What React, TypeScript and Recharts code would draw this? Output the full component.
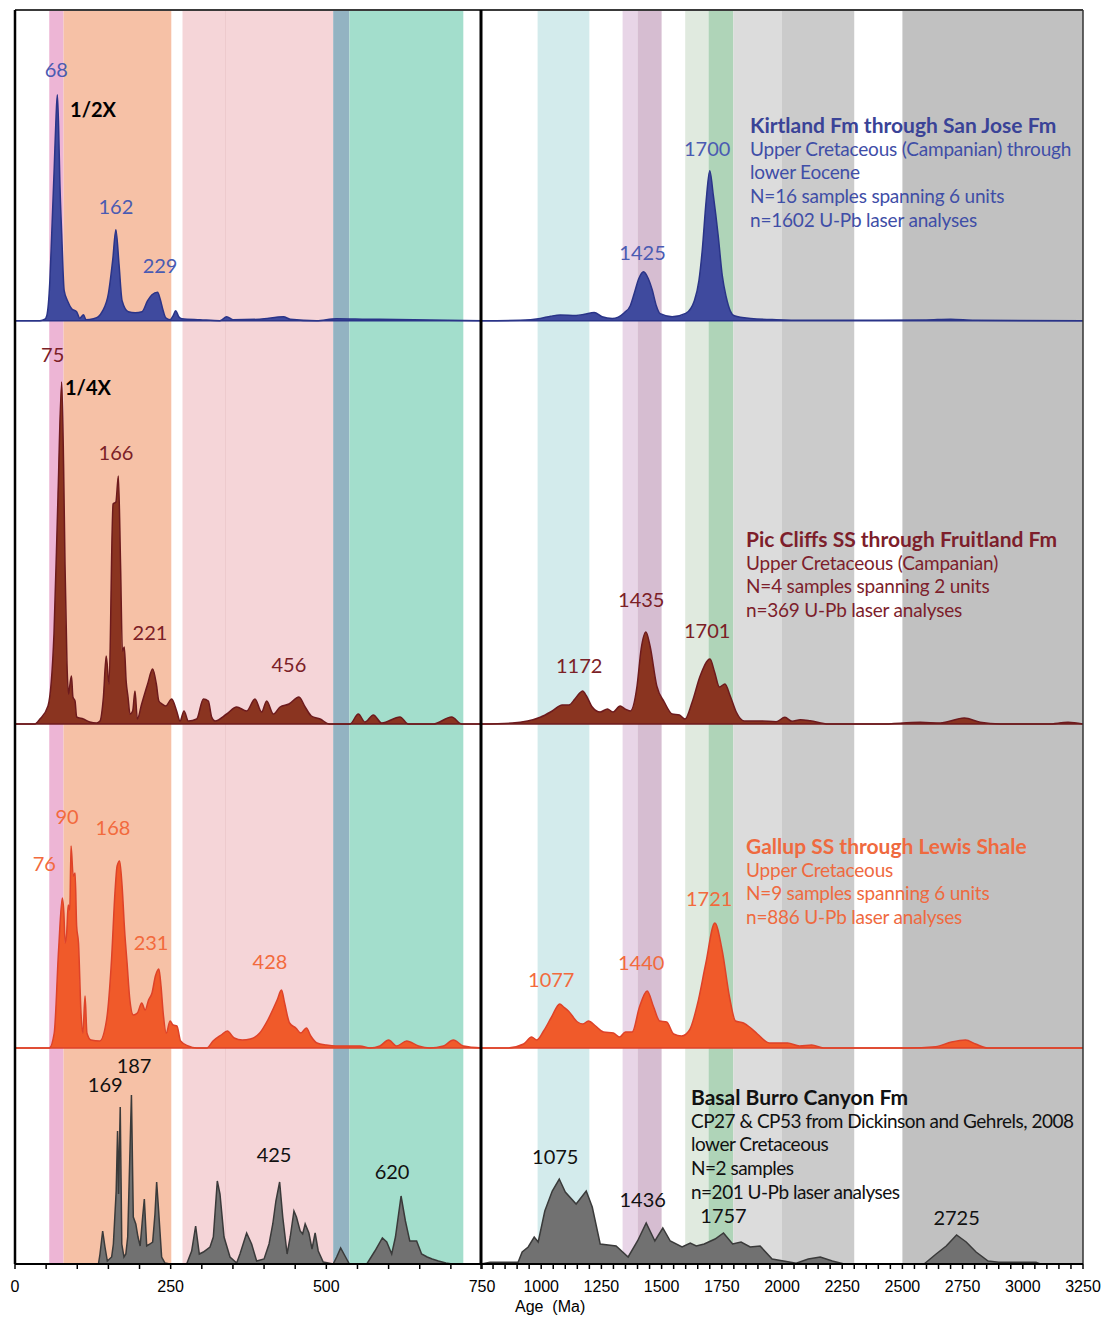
import React from 'react';
import {
  ComposedChart,
  Area,
  XAxis,
  YAxis,
  ReferenceArea,
  ReferenceLine,
  ReferenceDot,
} from 'recharts';

type Pt = [number, number];

// ---- Detrital zircon age spectra: [age (Ma), relative probability] ----

// Kirtland Fm through San Jose Fm (young part plotted at 1/2X)
const kirtlandYoung: Pt[] = [
  [0, 0], [40, 0], [48, 1.5], [51, 5], [56, 40], [59, 87], [63, 153], [66, 205], [68, 226], [70, 195],
  [72, 140], [75, 87], [79, 30], [85, 19], [91, 12], [99, 9], [104, 2.5], [110, 6], [114, 1], [126, 2],
  [134, 4], [140, 9], [150, 27], [157, 61], [162, 91], [167, 57], [172, 20], [182, 9], [193, 8], [204, 9],
  [213, 20], [220, 26], [229, 28.5], [233, 22], [238, 10], [242, 3], [249, 1], [254, 5], [258, 10], [263, 4],
  [268, 2], [297, 1], [329, 0], [340, 4], [350, 1], [393, 1.5], [431, 4], [442, 1.5], [484, 0], [516, 2],
  [565, 1.5], [640, 1], [750, 0],
];
const kirtlandOld: Pt[] = [
  [750, 0], [913, 0.5], [996, 2.3], [1040, 4.5], [1079, 5.7], [1145, 5.3], [1180, 6.5], [1220, 8.3], [1253, 4],
  [1295, 2.3], [1345, 8], [1370, 15], [1386, 27], [1405, 42], [1425, 49], [1445, 42], [1461, 31], [1478, 15],
  [1494, 7], [1544, 4], [1600, 7.3], [1636, 20], [1655, 40], [1669, 71], [1685, 120], [1700, 150], [1715, 125],
  [1735, 85], [1752, 45], [1768, 24], [1785, 10], [1802, 5], [1870, 2.3], [1976, 1], [2100, 0.5], [2400, 0.5],
  [2600, 0.8], [2700, 1.5], [2800, 0.5], [3250, 0],
];
const kirtlandPeaks = [68, 162, 229, 1425, 1700];

// Pic Cliffs SS through Fruitland Fm (young part plotted at 1/4X)
const picCliffsYoung: Pt[] = [
  [0, 0], [32, 0], [40, 5], [53, 18], [62.6, 90], [69, 227], [75, 342], [78, 260], [80.3, 160], [83.5, 60],
  [86, 30], [88.3, 40], [90.7, 48], [93, 27], [96.4, 23], [99, 7], [109.7, 5], [120, 2], [131, 1], [136.5, 3],
  [142, 27], [146.5, 68], [151, 40], [157.5, 220], [162, 222], [166, 248], [169.5, 160], [172.5, 73], [175.5, 77],
  [178.5, 43], [181.5, 27], [184.7, 10], [189, 13], [192.7, 33], [196.5, 5], [203.4, 20], [213, 40], [221, 55],
  [227, 40], [231, 23], [236, 20], [242, 18], [251.6, 25], [259.6, 13], [265, 3], [271.4, 13], [278.4, 3],
  [291.8, 5], [302.5, 25], [310.5, 23], [315.8, 7], [321.2, 3], [340, 10], [356, 17], [372, 13], [385.4, 25],
  [396.1, 12], [404.2, 23], [414.9, 10], [425.6, 17], [440, 20], [456, 27], [466, 17], [476, 8], [490, 5],
  [505, 0], [538, 0], [551.4, 10], [562, 2], [575.5, 9], [589, 1], [618.3, 7], [631.7, 0], [671.8, 0],
  [701.3, 7], [717.3, 0], [750, 0],
];
const picCliffsOld: Pt[] = [
  [750, 0], [880, 1], [996, 6.7], [1046, 13], [1087, 19], [1115, 19], [1140, 25], [1160, 31], [1172, 33],
  [1188, 28], [1212, 17], [1245, 12], [1275, 15], [1298, 12], [1328, 18], [1348, 15], [1370, 13], [1398, 38],
  [1415, 75], [1435, 92], [1452, 78], [1480, 38], [1511, 22], [1544, 10], [1574, 9], [1597, 5], [1627, 22],
  [1660, 48], [1701, 65], [1720, 52], [1740, 37], [1763, 40], [1785, 28], [1810, 12], [1843, 3], [1910, 3],
  [1976, 2.3], [2012, 6.7], [2042, 2.7], [2076, 4.3], [2117, 3.3], [2192, 0], [2408, 0], [2574, 1.7],
  [2657, 1], [2757, 6], [2823, 1.7], [2906, 0], [3105, 0], [3188, 1.7], [3250, 0],
];
const picCliffsPeaks = [75, 166, 221, 456, 1172, 1435, 1701];

// Gallup SS through Lewis Shale
const gallupYoung: Pt[] = [
  [0, 0], [55, 0], [63, 15], [70, 98], [76, 150], [78.5, 135], [80.5, 105], [83, 115], [85.5, 143], [88, 138],
  [90, 202], [93.5, 172], [96.5, 175], [99, 122], [102, 105], [106, 35], [109, 15], [112.5, 52], [115.5, 15],
  [122, 8], [136, 7], [147, 28], [155, 88], [160.5, 155], [164, 182], [168, 187], [172, 162], [176, 118],
  [180, 85], [184.5, 48], [190, 33], [196.5, 35], [203.5, 45], [209, 38], [214.5, 48], [220, 55], [225.5, 72],
  [231, 79], [234.5, 62], [238, 35], [243, 15], [249, 27], [254, 23], [260, 22], [266, 7], [278, 2], [292, 0],
  [308, 0], [318, 7], [331, 13], [341, 17], [352, 10], [365, 8], [378, 9], [393, 15], [406, 28], [421, 48],
  [428, 58], [433, 45], [441, 25], [451, 20], [459, 15], [468, 20], [475, 12], [485, 5], [500, 3], [515, 2],
  [533, 2], [554, 2], [570, 0], [586, 2], [600, 8], [613, 2], [629, 7], [648, 2], [666, 0], [688, 2],
  [704, 8], [720, 2], [750, 0],
];
const gallupOld: Pt[] = [
  [750, 0], [860, 0], [927, 4], [960, 11], [982, 8], [1010, 17], [1043, 31], [1077, 44], [1093, 41],
  [1113, 37], [1151, 26], [1173, 24], [1196, 27], [1226, 22], [1259, 16], [1300, 15], [1325, 11], [1350, 16],
  [1378, 16], [1408, 41], [1440, 57], [1467, 41], [1492, 27], [1521, 26], [1550, 14], [1583, 12], [1616, 18],
  [1649, 44], [1683, 84], [1721, 125], [1752, 97], [1782, 51], [1807, 27], [1840, 25], [1865, 21], [1898, 14],
  [1948, 5], [2023, 5], [2073, 2], [2123, 3], [2173, 0], [2520, 0], [2638, 1.3], [2704, 6], [2762, 8],
  [2804, 4], [2854, 0], [3250, 0],
];
const gallupPeaks = [76, 90, 168, 231, 428, 1077, 1440, 1721];

// Basal Burro Canyon Fm
const burroYoung: Pt[] = [
  [0, 0], [134, 0], [136.5, 10], [140.8, 33], [144.5, 17], [148.3, 3], [155.2, 7], [158, 20], [162.5, 73],
  [164.7, 133], [166.3, 70], [169, 157], [171.5, 20], [175, 7], [178, 10], [181, 27], [187, 169], [190, 47],
  [194, 40], [197.5, 27], [201, 18], [205, 47], [207.7, 65], [211.5, 18], [216.8, 20], [221.1, 22], [224.8, 50],
  [227.5, 82], [230.7, 53], [235.5, 7], [240.9, 1], [248.9, 0], [275.7, 0], [283.7, 13], [290.1, 38], [296, 10],
  [302.5, 12], [313.2, 17], [318.5, 27], [324.9, 83], [329.2, 70], [335.7, 27], [345.3, 7], [356, 1],
  [361.3, 10], [372, 31], [380, 20], [388.1, 3], [400, 5], [408, 20], [414, 40], [419, 63], [425, 82],
  [430, 47], [437, 10], [442, 27], [448, 53], [452, 47], [458, 33], [462, 30], [466, 40], [472, 31], [477, 15],
  [482, 31], [487, 13], [495, 2], [511, 0], [516.6, 7], [523, 16], [530, 8], [537, 0], [565, 0], [578, 13],
  [590, 26], [597, 22], [605, 10], [611, 27], [620, 68], [627, 43], [634, 23], [645, 23], [653, 10], [662, 7],
  [670, 5], [680, 3], [692, 1], [702, 0], [750, 0],
];
const burroOld: Pt[] = [
  [750, 0], [788, 1.7], [904, 1.7], [921, 12], [946, 17], [971, 27], [987.5, 22], [1015, 53], [1046, 73],
  [1075, 85], [1100, 72], [1145, 60], [1187, 73], [1212, 57], [1245, 20], [1311, 18], [1361, 7], [1400, 23],
  [1436, 41], [1472, 23], [1505, 36], [1536, 23], [1585, 17], [1619, 21], [1644, 18], [1677, 20], [1722, 25],
  [1757, 31], [1795, 20], [1830, 22], [1868, 17], [1909, 18], [1959, 5], [2059, 0.7], [2109, 5], [2159, 7],
  [2209, 3], [2258, 0], [2590, 0], [2640, 10], [2682, 18], [2725, 29], [2765, 22], [2806, 12], [2856, 3],
  [2900, 1.7], [3055, 1.7], [3072, 0], [3250, 0],
];
const burroPeaks = [169, 187, 425, 620, 1075, 1436, 1757, 2725];

// ---- Age intervals shaded behind the spectra (Ma) ----
const youngBandAges: Pt[] = [[55, 78], [78, 251], [269, 511], [337.5, 338.5], [511, 537], [537, 720]];
const oldBandAges: Pt[] = [
  [985, 1200], [1338, 1400], [1400, 1500], [1598, 1695], [1695, 1798], [1798, 2000], [2000, 2300], [2500, 3250],
];

// ---- Axis ticks ----
const youngTicks = [0, 50, 100, 150, 200, 250, 300, 350, 400, 450, 500, 550, 600, 650, 700, 750];
const oldTicks = [
  750, 800, 850, 900, 950, 1000, 1050, 1100, 1150, 1200, 1250, 1300, 1350, 1400, 1450, 1500, 1550, 1600,
  1650, 1700, 1750, 1800, 1850, 1900, 1950, 2000, 2050, 2100, 2150, 2200, 2250, 2300, 2350, 2400, 2450,
  2500, 2550, 2600, 2650, 2700, 2750, 2800, 2850, 2900, 2950, 3000, 3050, 3100, 3150, 3200, 3250,
];
const youngTickLabels = [0, 250, 500, 750];
const oldTickLabels = [1000, 1250, 1500, 1750, 2000, 2250, 2500, 2750, 3000, 3250];

// ---- Styling / layout ----
const youngBandFills = ['#EDB5D5', '#F6C1A6', '#F5D5D8', '#E8C4C7', '#93B3C2', '#A3DECC'];
const oldBandFills = ['#D3EBEC', '#E8D5E7', '#D6BDD1', '#E0EADF', '#AFD4B8', '#DCDCDC', '#CBCBCB', '#C1C1C1'];

const Y_MAX = 1254;
const LABEL_FONT = 'Lato, "Noto Sans", sans-serif';
const AXIS_FONT = '"Liberation Sans", Arial, sans-serif';

type Panel = {
  young: Pt[];
  old: Pt[];
  peaks: number[];
  base: number;
  fill: string;
  stroke: string;
  labelColor: string;
  curve: 'monotone' | 'linear';
  // per-peak label placement: [dx, lift above peak]
  place: Record<number, [number, number]>;
};

const panels: Panel[] = [
  {
    young: kirtlandYoung, old: kirtlandOld, peaks: kirtlandPeaks, base: 943.3,
    fill: '#3F4A9E', stroke: '#2A3488', labelColor: '#4A5BB2', curve: 'monotone',
    place: { 68: [-1, 18], 162: [0, 16], 229: [2.5, 19], 1425: [-1, 12], 1700: [-2.6, 15] },
  },
  {
    young: picCliffsYoung, old: picCliffsOld, peaks: picCliffsPeaks, base: 540,
    fill: '#8A3420', stroke: '#6D1A1D', labelColor: '#7B2026', curve: 'monotone',
    place: {
      75: [-9, 20], 166: [-2.4, 16], 221: [-2.6, 29], 456: [-10, 25],
      1172: [-3.4, 18], 1435: [-4.7, 25], 1701: [-2.8, 21],
    },
  },
  {
    young: gallupYoung, old: gallupOld, peaks: gallupPeaks, base: 216,
    fill: '#F05A2A', stroke: '#DE4229', labelColor: '#F26A3D', curve: 'monotone',
    place: {
      76: [-18, 27], 90: [-4, 22], 168: [-6.6, 26], 231: [-7.8, 19], 428: [-11.5, 21],
      1077: [-8.5, 17], 1440: [-6, 21], 1721: [-5.6, 17],
    },
  },
  {
    young: burroYoung, old: burroOld, peaks: burroPeaks, base: 0,
    fill: '#717171', stroke: '#3A3A3A', labelColor: '#111111', curve: 'linear',
    place: {
      169: [-15, 15], 187: [2.6, 22], 425: [-5.6, 20], 620: [-9, 17],
      1075: [-4, 15], 1436: [-3.5, 16], 1757: [0, 10], 2725: [0, 10],
    },
  },
];

const scaleNotes = [
  { panel: 0, peak: 68, text: '1/2X', dx: 12.7, lift: -22 },
  { panel: 1, peak: 75, text: '1/4X', dx: 3.3, lift: -13 },
];

const titleBlocks = [
  {
    left: 750, top: 113, color: '#3A4397', body: '#3F4EA7',
    lines: ['Kirtland Fm through San Jose Fm', 'Upper Cretaceous (Campanian) through', 'lower Eocene',
      'N=16 samples spanning 6 units', 'n=1602 U-Pb laser analyses'],
  },
  {
    left: 746, top: 527, color: '#7D1E2B', body: '#7D1E2B',
    lines: ['Pic Cliffs SS through Fruitland Fm', 'Upper Cretaceous (Campanian)',
      'N=4 samples spanning 2 units', 'n=369 U-Pb laser analyses'],
  },
  {
    left: 746, top: 834, color: '#EF6A3F', body: '#EF6A3F',
    lines: ['Gallup SS through Lewis Shale', 'Upper Cretaceous', 'N=9 samples spanning 6 units',
      'n=886 U-Pb laser analyses'],
  },
  {
    left: 691, top: 1085, color: '#111111', body: '#111111',
    lines: ['Basal Burro Canyon Fm', 'CP27 & CP53 from Dickinson and Gehrels, 2008', 'lower Cretaceous',
      'N=2 samples', 'n=201 U-Pb laser analyses'],
  },
];

const toRows = (series: Pt[], base: number) =>
  series.map(([age, p]) => ({ age, v: [base, base + p] }));

const heightAt = (series: Pt[], age: number) => {
  const hit = series.find((p) => p[0] === age);
  return hit ? hit[1] : 0;
};

const makeText =
  (text: string, dx: number, lift: number, color: string, anchor: 'middle' | 'start', weight: number) =>
  (props: any) => (
    <text
      x={props.cx + dx}
      y={props.cy - lift}
      textAnchor={anchor}
      fill={color}
      fontSize={20}
      fontWeight={weight}
      fontFamily={LABEL_FONT}
    >
      {text}
    </text>
  );

function SpectraColumn({
  side, width, margin, domain, ticks, tickLabels,
}: {
  side: 'young' | 'old';
  width: number;
  margin: { top: number; right: number; bottom: number; left: number };
  domain: [number, number];
  ticks: number[];
  tickLabels: number[];
}) {
  const bands = side === 'young' ? youngBandAges : oldBandAges;
  const fills = side === 'young' ? youngBandFills : oldBandFills;
  const inSide = (age: number) => (side === 'young' ? age < 750 : age >= 750);

  return (
    <ComposedChart width={width} height={1318} margin={margin}>
      <XAxis
        type="number"
        dataKey="age"
        domain={domain}
        ticks={ticks}
        interval={0}
        allowDataOverflow
        height={30}
        tickSize={5}
        tickMargin={12}
        tickFormatter={(v: number) => (tickLabels.includes(v) ? String(v) : '')}
        axisLine={{ stroke: '#000', strokeWidth: 2 }}
        tickLine={{ stroke: '#000', strokeWidth: 1.5 }}
        tick={{ fill: '#000', fontSize: 16, fontFamily: AXIS_FONT }}
      />
      <YAxis type="number" domain={[0, Y_MAX]} hide allowDataOverflow />

      {bands.map(([a, b], i) => (
        <ReferenceArea
          key={`band-${i}`}
          x1={a}
          x2={b}
          y1={0}
          y2={Y_MAX}
          fill={fills[i]}
          fillOpacity={1}
          stroke="none"
          ifOverflow="hidden"
        />
      ))}

      {panels.map((p, i) => (
        <Area
          key={`spec-${i}`}
          data={toRows(side === 'young' ? p.young : p.old, p.base)}
          dataKey="v"
          type={p.curve}
          stroke={p.stroke}
          strokeWidth={1.5}
          fill={p.fill}
          fillOpacity={1}
          dot={false}
          activeDot={false}
          isAnimationActive={false}
        />
      ))}

      <ReferenceLine y={Y_MAX} stroke="#3a3a3a" strokeWidth={2} />
      {side === 'young' ? (
        <ReferenceLine x={0} stroke="#000" strokeWidth={2.5} />
      ) : (
        <ReferenceLine x={3250} stroke="#333" strokeWidth={1.5} />
      )}
      {side === 'old' && <ReferenceLine x={750} stroke="#000" strokeWidth={3} />}

      {panels.flatMap((p, i) =>
        p.peaks.filter(inSide).map((age) => {
          const series = side === 'young' ? p.young : p.old;
          const [dx, lift] = p.place[age];
          return (
            <ReferenceDot
              key={`pk-${i}-${age}`}
              x={age}
              y={p.base + heightAt(series, age)}
              r={0}
              shape={makeText(String(age), dx, lift, p.labelColor, 'middle', 400)}
            />
          );
        })
      )}

      {side === 'young' &&
        scaleNotes.map((n) => {
          const p = panels[n.panel];
          return (
            <ReferenceDot
              key={`note-${n.panel}`}
              x={n.peak}
              y={p.base + heightAt(p.young, n.peak)}
              r={0}
              shape={makeText(n.text, n.dx, n.lift, '#000', 'start', 700)}
            />
          );
        })}
    </ComposedChart>
  );
}

export default function App() {
  return (
    <div
      style={{
        position: 'absolute',
        left: 0,
        top: 0,
        width: 1106,
        height: 1318,
        background: '#fff',
        overflow: 'hidden',
      }}
    >
      <div style={{ position: 'absolute', left: 0, top: 0 }}>
        <SpectraColumn
          side="young"
          width={500}
          margin={{ top: 10, right: 18, bottom: 24, left: 15 }}
          domain={[0, 750]}
          ticks={youngTicks}
          tickLabels={youngTickLabels}
        />
      </div>
      <div style={{ position: 'absolute', left: 470, top: 0 }}>
        <SpectraColumn
          side="old"
          width={636}
          margin={{ top: 10, right: 23, bottom: 24, left: 11 }}
          domain={[750, 3250]}
          ticks={oldTicks}
          tickLabels={oldTickLabels}
        />
      </div>

      {titleBlocks.map((b, i) => (
        <div
          key={`title-${i}`}
          style={{
            position: 'absolute',
            left: b.left,
            top: b.top,
            fontFamily: LABEL_FONT,
            fontSize: 19,
            lineHeight: '23.7px',
            whiteSpace: 'nowrap',
          }}
        >
          {b.lines.map((line, j) => (
            <div
              key={j}
              style={
                j === 0
                  ? { color: b.color, fontWeight: 700, fontSize: 21, letterSpacing: '0px' }
                  : { color: b.body, fontWeight: 400, letterSpacing: i === 3 ? '-0.5px' : '-0.2px' }
              }
            >
              {line}
            </div>
          ))}
        </div>
      ))}

      <div
        style={{
          position: 'absolute',
          left: 515,
          top: 1298,
          fontFamily: AXIS_FONT,
          fontSize: 16,
          lineHeight: '18px',
          whiteSpace: 'pre',
          color: '#000',
        }}
      >
        {'Age  (Ma)'}
      </div>
    </div>
  );
}
